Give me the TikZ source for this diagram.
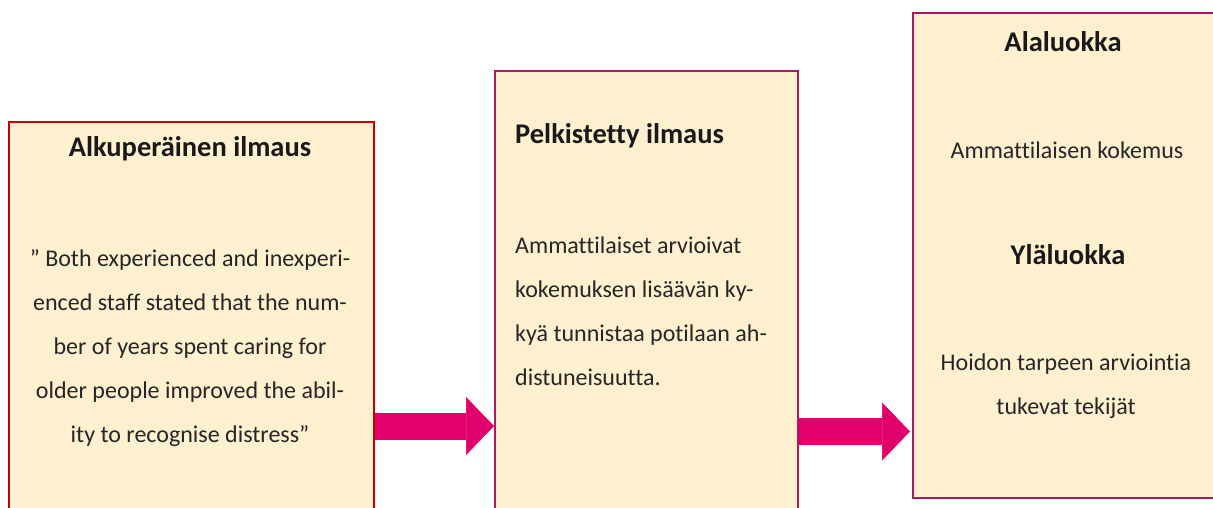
\documentclass[tikz,border=0pt]{standalone}
\usepackage{fontspec}
\setmainfont[Ligatures=NoCommon]{Carlito}
\usetikzlibrary{arrows.meta, positioning}
\definecolor{boxfill}{HTML}{FFF0D0}
\definecolor{redline}{HTML}{C80000}
\definecolor{plumline}{HTML}{B0185C}
\definecolor{arrowpink}{HTML}{E2006B}

\begin{document}
\begin{tikzpicture}[
x=1pt, y=-1pt,
box/.style={draw=plumline, fill=boxfill, line width=2pt, rectangle, anchor=north west, inner sep=0pt},
title/.style={font=\fontsize{28.5}{34}\selectfont\bfseries, inner sep=0pt, text=black!90},
body/.style={font=\fontsize{24}{44}\selectfont, inner sep=0pt, text=black!85},
arrow/.style={line width=27pt, draw=arrowpink, -{Triangle[length=28pt, width=58pt, line width=0.5pt, fill=arrowpink]}}
]
\clip (0,0) rectangle (1213,507);

% ---------- BOXES ----------

\node[box, draw=redline, minimum width=365pt, minimum height=420pt] (orig) at (8,121) {};
\node[box, minimum width=303pt, minimum height=470pt] (simpl) at (494,70) {};
\node[box, minimum width=330pt, minimum height=485pt] (cat) at (912,12) {};

% ---------- ORIGINAL ----------

\node[title] (origtitle) at (190,149) {Alkuperäinen ilmaus};
\node[body, align=center] (origtext) at (190,348)
{” Both experienced and inexperi-\\
enced staff stated that the num-\\
ber of years spent caring for\\
older people improved the abil-\\
ity to recognise distress”};

% ---------- SIMPLIFIED ----------

\node[title, anchor=west] (simpltitle) at (515,136) {Pelkistetty ilmaus};
\node[body, align=left, anchor=west] (simpltext) at (515,311)
{Ammattilaiset arvioivat\\
kokemuksen lisäävän ky-\\
kyä tunnistaa potilaan ah-\\
distuneisuutta.};

% ---------- CATEGORIES ----------

\node[title] (subtitle) at (1063,42) {Alaluokka};
\node[body] (subtext) at (1067,150) {Ammattilaisen kokemus};
\node[title] (uptitle) at (1068,255) {Yläluokka};
\node[body, align=center] (uptext) at (1066,386)
{Hoidon tarpeen arviointia\\
tukevat tekijät};

% ---------- ARROWS ----------

\coordinate (lvlA) at (0,426);
\coordinate (lvlB) at (0,431.5);
\draw[arrow] (orig.east |- lvlA) -- (simpl.west |- lvlA);
\draw[arrow] (simpl.east |- lvlB) -- ([xshift=-2pt]cat.west |- lvlB);

\end{tikzpicture}
\end{document}
